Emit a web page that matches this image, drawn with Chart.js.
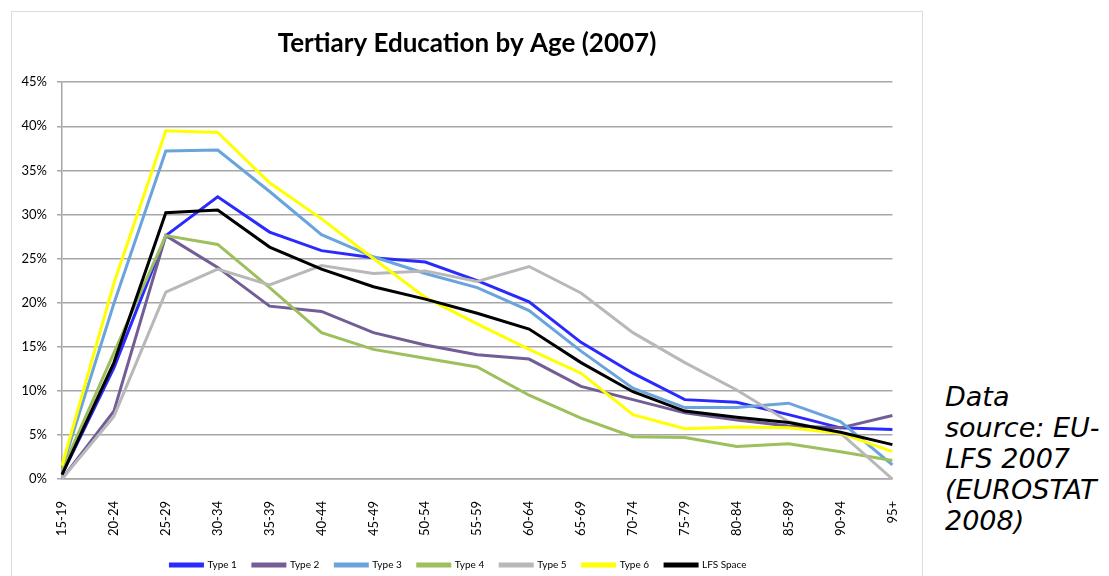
<!DOCTYPE html>
<html>
<head>
<meta charset="utf-8">
<script src="https://cdn.jsdelivr.net/npm/chart.js@4"></script>
<style>
  html, body { margin: 0; padding: 0; background: #fff; overflow: hidden; }
  #box { position: absolute; left: 11px; top: 11px; width: 910px; height: 620px; border: 1px solid #dcdcdc; }
  #wrap { position: absolute; left: 12px; top: 12px; width: 910px; height: 568px; }
  #note { position: absolute; left: 945px; top: 381px; font-family: "DejaVu Sans", sans-serif; font-style: italic; font-size: 27px; line-height: 31px; color: #000; }
</style>
</head>
<body>
<div id="box"></div>
<div id="wrap"><canvas id="chart"></canvas></div>
<div id="note">Data<br>source: EU-<br>LFS 2007<br>(EUROSTAT<br>2008)</div>
<script>
// age groups
const ageGroups = ['15-19', '20-24', '25-29', '30-34', '35-39', '40-44', '45-49', '50-54', '55-59',
  '60-64', '65-69', '70-74', '75-79', '80-84', '85-89', '90-94', '95+'];

// share with tertiary education, percent
const type1 = [0.5, 12.6, 27.6, 32.0, 28.0, 25.9, 25.1, 24.6, 22.5, 20.1, 15.5, 12.0, 9.0, 8.7, 7.3, 5.8, 5.6];
const type2 = [0.0, 7.7, 27.6, 24.0, 19.6, 19.0, 16.6, 15.2, 14.1, 13.6, 10.5, 9.0, 7.5, 6.7, 6.0, 5.8, 7.2];
const type3 = [1.2, 19.9, 37.2, 37.3, 32.6, 27.7, 25.2, 23.3, 21.7, 19.1, 14.5, 10.3, 8.1, 8.1, 8.6, 6.5, 1.6];
const type4 = [1.0, 14.3, 27.6, 26.6, 21.7, 16.6, 14.7, 13.7, 12.7, 9.5, 6.9, 4.8, 4.7, 3.7, 4.0, 3.1, 2.1];
const type5 = [0.0, 7.1, 21.2, 23.8, 22.0, 24.2, 23.3, 23.6, 22.4, 24.1, 21.1, 16.6, 13.2, 10.1, 6.5, 5.2, 0.0];
const type6 = [1.5, 22.2, 39.5, 39.3, 33.6, 29.5, 25.0, 20.6, 17.6, 14.7, 12.0, 7.3, 5.7, 5.9, 5.8, 5.2, 3.1];
const lfsSpace = [0.5, 13.2, 30.2, 30.5, 26.3, 23.8, 21.8, 20.4, 18.8, 17.0, 13.2, 9.9, 7.7, 7.0, 6.4, 5.3, 3.9];

const yTicks = [0, 5, 10, 15, 20, 25, 30, 35, 40, 45];

const series = [
  { label: 'Type 1', data: type1, color: '#2a2aff' },
  { label: 'Type 2', data: type2, color: '#735d96' },
  { label: 'Type 3', data: type3, color: '#6aa4dd' },
  { label: 'Type 4', data: type4, color: '#9dbf5c' },
  { label: 'Type 5', data: type5, color: '#b8b8b8' },
  { label: 'Type 6', data: type6, color: '#ffff00' },
  { label: 'LFS Space', data: lfsSpace, color: '#000000' }
];

const font = '"Lato", "Open Sans", sans-serif';

// centre the title on the whole box, not on the padded area
const centreTitle = {
  id: 'centreTitle',
  afterLayout(chart) {
    const t = chart.titleBlock;
    if (t) { t.left = 0; t.right = chart.width; t.width = chart.width; }
  }
};

new Chart(document.getElementById('chart'), {
  type: 'line',
  data: {
    labels: ageGroups,
    datasets: series.map((s, i) => ({
      label: s.label,
      data: s.data,
      borderColor: s.color,
      backgroundColor: s.color,
      borderWidth: 3,
      pointRadius: 0,
      tension: 0,
      order: series.length - i   // later series drawn on top, like the original
    }))
  },
  plugins: [centreTitle],
  options: {
    responsive: true,
    maintainAspectRatio: false,
    animation: false,
    layout: { padding: { left: 0, right: 17, top: 0, bottom: 0 } },
    plugins: {
      tooltip: { enabled: false },
      title: {
        display: true,
        text: 'Tertiary Education by Age (2007)',
        color: '#000',
        font: { family: font, size: 26, weight: 'bold' },
        padding: { top: 16, bottom: 23 }
      },
      legend: {
        position: 'bottom',
        labels: {
          color: '#000',
          font: { family: font, size: 10 },
          boxWidth: 32,
          boxHeight: 2,
          padding: 16,
          sort: (a, b) => a.datasetIndex - b.datasetIndex
        }
      }
    },
    scales: {
      x: {
        grid: { display: false },
        border: { display: true, color: '#a6a6a6', width: 1.5 },
        ticks: {
          color: '#000',
          font: { family: font, size: 13 },
          minRotation: 90,
          maxRotation: 90,
          autoSkip: false,
          padding: 14
        },
        afterFit: (scale) => { scale.height = 65; }
      },
      y: {
        min: 0,
        max: 45,
        afterBuildTicks: (scale) => { scale.ticks = yTicks.map(v => ({ value: v })); },
        grid: { color: '#a6a6a6', lineWidth: 1.5, tickLength: 5, drawTicks: true },
        border: { display: true, color: '#a6a6a6', width: 1.5 },
        ticks: {
          color: '#000',
          font: { family: font, size: 13 },
          padding: 10,
          callback: (v) => v + '%'
        },
        afterFit: (scale) => { scale.width = 50; }
      }
    }
  }
});
</script>
</body>
</html>
